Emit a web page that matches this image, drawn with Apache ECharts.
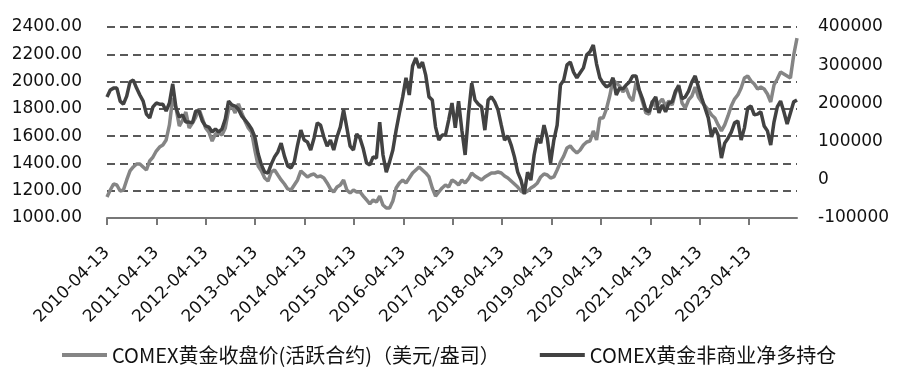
<!DOCTYPE html>
<html lang="zh">
<head>
  <meta charset="utf-8" />
  <script src="https://cdn.jsdelivr.net/npm/echarts@6/dist/echarts.min.js"></script>
</head>
<body style="margin:0; background:#fff">
  <div id="container" style="width:900px; height:378px"></div>
  <script>
    // sample points are spaced evenly from 2010-04-13 to early April 2024
    var startYear = 2010;
    var spanYears = 13.97;
    var yearTicks = [0, 1, 2, 3, 4, 5, 6, 7, 8, 9, 10, 11, 12, 13];

    // COMEX gold close (USD/oz)
    var goldPrice = [
      1154, 1205, 1249, 1242, 1198, 1205, 1279, 1345, 1374, 1396,
      1396, 1374, 1352, 1418, 1447, 1491, 1520, 1535, 1572, 1682,
      1880, 1806, 1674, 1718, 1777, 1660, 1696, 1740, 1799, 1733,
      1660, 1630, 1564, 1616, 1623, 1608, 1660, 1792, 1821, 1770,
      1836, 1770, 1711, 1660, 1630, 1498, 1381, 1345, 1293, 1271,
      1337, 1352, 1315, 1279, 1249, 1213, 1205, 1242, 1279,
      1345, 1323, 1301, 1315, 1323, 1301, 1308, 1293, 1257, 1213,
      1191, 1227, 1242, 1279, 1205, 1183, 1205, 1191, 1191, 1161,
      1132, 1103, 1132, 1117, 1161, 1095, 1073, 1073, 1125, 1220,
      1257, 1279, 1257, 1293, 1330, 1352, 1374, 1352, 1330, 1301,
      1220, 1161, 1191, 1220, 1242, 1227, 1279, 1264, 1242, 1279,
      1257, 1286, 1330, 1308, 1293, 1279, 1301, 1315, 1330, 1330,
      1337, 1330, 1308, 1293, 1271, 1249, 1227, 1198, 1183, 1198,
      1220, 1235, 1257, 1301, 1323, 1315, 1293, 1301, 1352, 1410,
      1454, 1513, 1528, 1498, 1476, 1498, 1535, 1557, 1564,
      1638, 1572, 1733, 1733, 1799, 1894, 2012, 1990, 1968, 1924,
      1953, 1887, 1858, 1990, 1931, 1850, 1770, 1762, 1858, 1814,
      1843, 1872, 1821, 1858, 1828, 1916, 1975, 1843, 1806, 1865,
      1894, 1960, 1887, 1850, 1821, 1792, 1755, 1733, 1682, 1638,
      1682, 1748, 1821, 1872, 1902, 1953, 2026, 2041, 2004, 1982,
      1946, 1960, 1946, 1909, 1850, 1975, 2019, 2070, 2056, 2041,
      2026, 2195, 2319
    ];

    // COMEX gold non-commercial net long, thousand contracts
    var netLongK = [
      217, 235, 240, 240, 206, 198, 219, 256, 261, 240,
      222, 206, 172, 162, 191, 201, 198, 198, 180, 201,
      251, 188, 164, 170, 151, 151, 149, 180, 180, 154,
      141, 138, 125, 133, 125, 133, 159, 206, 196, 193,
      185, 167, 157, 146, 133, 112, 68, 39, 20, 18,
      41, 60, 73, 96, 62, 36, 31, 47, 91,
      130, 104, 99, 78, 109, 149, 143, 112, 88, 104,
      78, 112, 138, 183, 136, 88, 78, 120, 109, 81,
      44, 39, 60, 57, 151, 65, 20, 47, 78, 130,
      175, 217, 267, 222, 298, 319, 293, 308, 274, 217,
      209, 138, 104, 117, 117, 157, 201, 136, 206, 130,
      65, 170, 253, 209, 198, 191, 130, 209, 217, 204,
      183, 143, 104, 115, 91, 60, 20, -1, -37, 20,
      -1, 65, 109, 96, 143, 109, 44, 104, 143, 248,
      261, 301, 308, 282, 267, 280, 293, 327, 335,
      353, 303, 267, 253, 243, 248, 267, 222, 240, 238,
      248, 256, 272, 272, 235, 212, 183, 178, 204, 217,
      175, 196, 178, 201, 204, 232, 246, 212, 217, 232,
      256, 272, 243, 214, 188, 162, 112, 136, 117, 57,
      96, 109, 125, 149, 154, 104, 136, 188, 193, 170,
      172, 178, 141, 128, 91, 151, 191, 206, 178, 146,
      175, 204, 209
    ];

    var nameGold = "COMEX黄金收盘价(活跃合约)（美元/盎司）";
    var nameNet = "COMEX黄金非商业净多持仓";

    function toPairs(arr, scale) {
      var n = arr.length;
      return arr.map(function (v, i) {
        return [i * spanYears / (n - 1), v * scale];
      });
    }

    var numFont = "DejaVu Sans";
    var myChart = echarts.init(document.getElementById("container"), null, { renderer: "canvas" });

    var option = {
      animation: false,
      backgroundColor: "#fff",
      grid: { left: 107, right: 103, top: 27, bottom: 160 },
      legend: {
        left: 57,
        bottom: 8,
        icon: "rect",
        itemWidth: 45,
        itemHeight: 4,
        itemGap: 40,
        textStyle: { fontFamily: "Noto Sans CJK SC", fontSize: 20, color: "#111" },
        data: [nameGold, nameNet],
      },
      xAxis: {
        type: "value",
        min: 0,
        max: spanYears,
        interval: 1,
        axisLine: { show: true, onZero: false, lineStyle: { color: "#777", width: 2 } },
        axisTick: { show: true, length: 7, customValues: yearTicks, lineStyle: { color: "#777", width: 2 } },
        splitLine: { show: false },
        axisLabel: {
          rotate: 45,
          margin: 32,
          customValues: yearTicks,
          fontFamily: numFont,
          fontSize: 17,
          color: "#111",
          formatter: function (v) {
            return (startYear + Math.round(v)) + "-04-13";
          },
        },
      },
      yAxis: [
        {
          type: "value",
          min: 1000,
          max: 2400,
          interval: 200,
          axisLine: { show: false },
          axisTick: { show: false },
          splitLine: { lineStyle: { color: "#595959", width: 2, type: [8, 5] } },
          axisLabel: {
            margin: 25,
            fontFamily: numFont,
            fontSize: 17,
            color: "#111",
            formatter: function (v) { return v.toFixed(2); },
          },
        },
        {
          type: "value",
          min: -100000,
          max: 400000,
          interval: 100000,
          axisLine: { show: false },
          axisTick: { show: false },
          splitLine: { show: false },
          axisLabel: {
            margin: 21,
            fontFamily: numFont,
            fontSize: 17,
            color: "#111",
            formatter: function (v) { return String(v); },
          },
        },
      ],
      series: [
        {
          name: nameGold,
          type: "line",
          yAxisIndex: 0,
          showSymbol: false,
          itemStyle: { color: "#858585" },
          lineStyle: { color: "#858585", width: 3.5 },
          data: toPairs(goldPrice, 1),
        },
        {
          name: nameNet,
          type: "line",
          yAxisIndex: 1,
          showSymbol: false,
          itemStyle: { color: "#424242" },
          lineStyle: { color: "#424242", width: 3.5 },
          data: toPairs(netLongK, 1000),
        },
      ],
    };

    myChart.setOption(option);
  </script>
</body>
</html>
